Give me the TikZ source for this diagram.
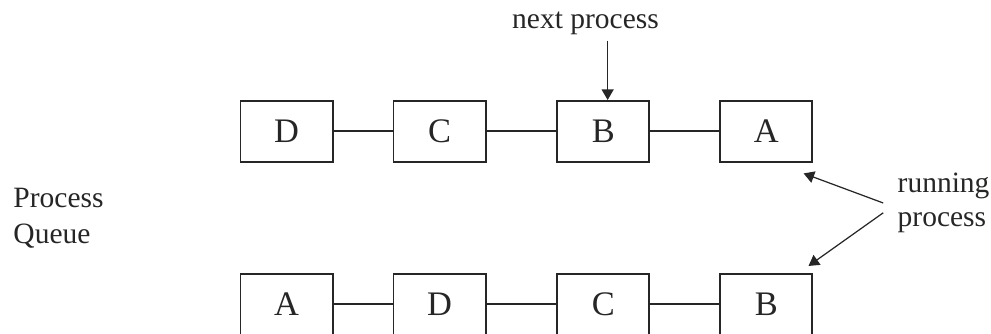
\documentclass[tikz,border=0pt]{standalone}
\usepackage{fontspec}
\setmainfont{Liberation Serif}
\usetikzlibrary{arrows.meta, positioning}
\tikzset{
    proc/.style={rectangle, draw=black!85, line width=0.8pt, minimum width=1.316cm, minimum height=0.872cm, text=black!85, font=\fontsize{14}{16}\selectfont},
    link/.style={draw=black!85, line width=0.8pt},
    pointer/.style={-{Triangle[length=1.5mm, width=1.7mm]}, draw=black!85, line width=0.5pt},
    lbl/.style={text=black!85, inner sep=0pt, font=\fontsize{12}{13.8}\selectfont}
}

\begin{document}
\begin{tikzpicture}
  \useasboundingbox (0,0) rectangle (14.171,4.776);
  % queue before the switch
  \node[proc] (d1) at (4.097,2.896) {D};
  \node[proc, right=0.844cm of d1] (c1) {C};
  \node[proc, right=1.0cm of c1] (b1) {B};
  \node[proc, right=0.986cm of b1] (a1) {A};
  % queue after the switch
  \node[proc, below=1.573cm of d1] (a2) {A};
  \node[proc, right=0.844cm of a2] (d2) {D};
  \node[proc, right=1.0cm of d2] (c2) {C};
  \node[proc, right=0.986cm of c2] (b2) {B};
  \draw[link] (d1) -- (c1) (c1) -- (b1) (b1) -- (a1);
  \draw[link] (a2) -- (d2) (d2) -- (c2) (c2) -- (b2);
  % labels
  \node[lbl, inner sep=2pt, anchor=base] (next) at (8.373,4.362) {next process};
  \node[lbl, inner xsep=0.2cm, anchor=west, align=left] (run) at (12.63,1.873) {running\\process};
  \node[lbl, anchor=west, align=left, font=\fontsize{12}{14.7}\selectfont] (queue) at (0.186,1.659) {Process\\Queue};
  \coordinate (tipB) at ([xshift=0.06cm]b1.north);
  \draw[pointer] (next.south -| tipB) -- (tipB);
  \draw[pointer] (run.west) -- ([shift={(-0.14,-0.15)}]a1.south east);
  \draw[pointer] ([yshift=-0.14cm]run.west) -- ([shift={(-0.07,0.1)}]b2.north east);
\end{tikzpicture}
\end{document}
